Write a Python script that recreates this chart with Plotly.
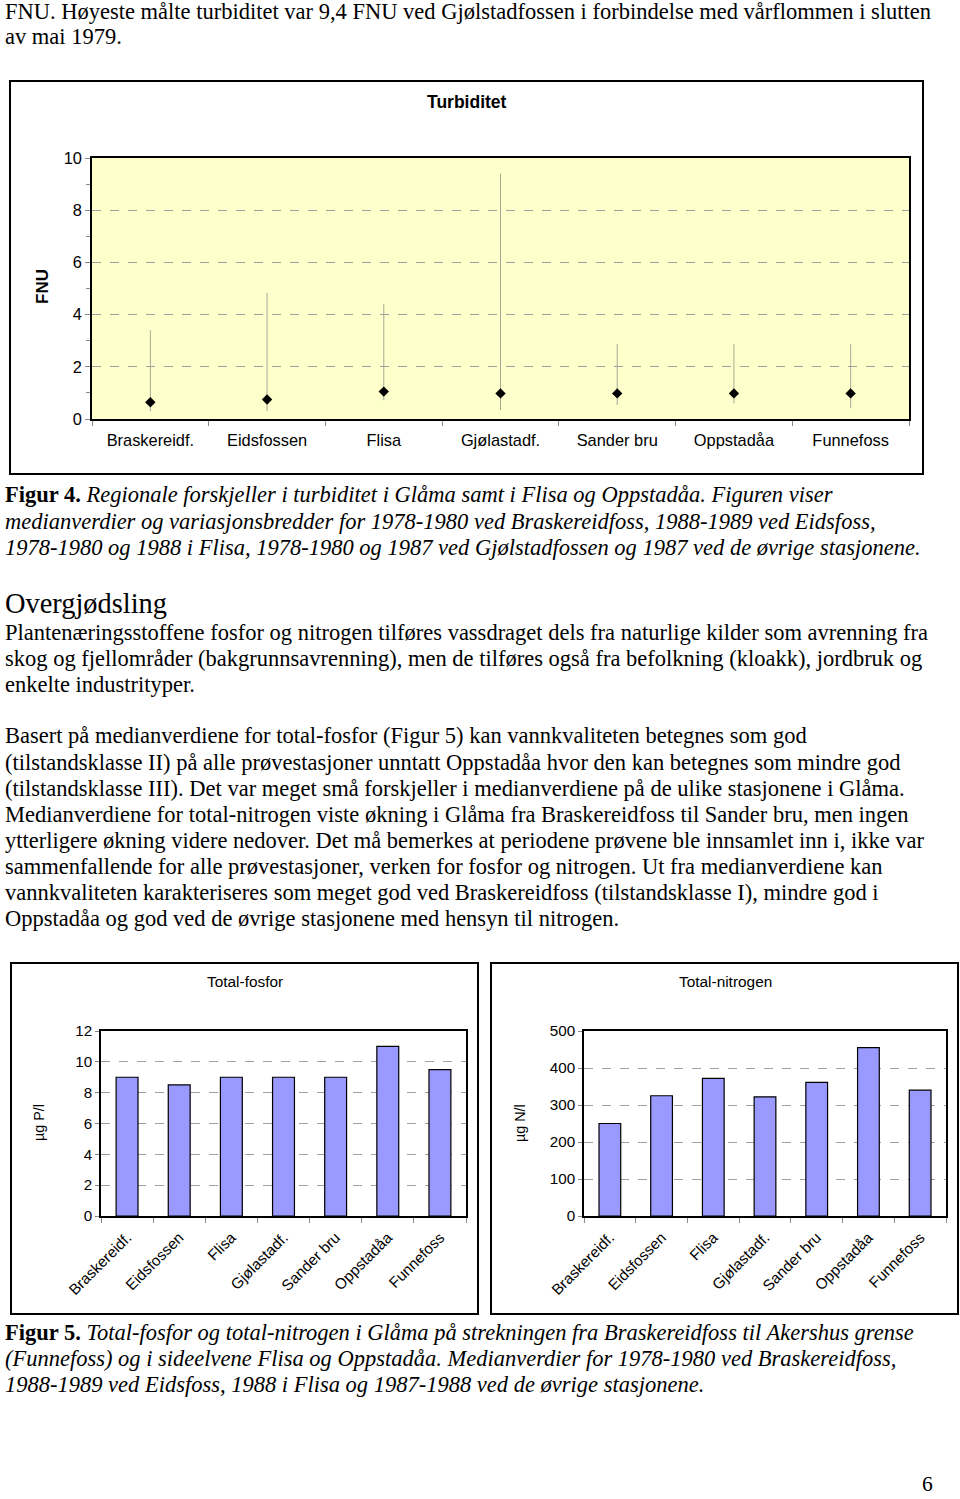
import plotly.graph_objects as go

# ---------------- data ----------------
stations = ["Braskereidf.", "Eidsfossen", "Flisa", "Gjølastadf.", "Sander bru", "Oppstadåa", "Funnefoss"]
turb_median = [0.64, 0.75, 1.05, 0.98, 0.98, 0.98, 0.98]
turb_min = [0.3, 0.3, 0.72, 0.34, 0.54, 0.6, 0.41]
turb_max = [3.4, 4.84, 4.4, 9.4, 2.87, 2.87, 2.87]
turb_ticks = [0, 2, 4, 6, 8, 10]

fosfor = [9.0, 8.5, 9.0, 9.0, 9.0, 11.0, 9.5]
fosfor_ticks = [0, 2, 4, 6, 8, 10, 12]
nitrogen = [250, 325, 372, 322, 361, 455, 340]
nitrogen_ticks = [0, 100, 200, 300, 400, 500]

W, H = 960, 1499


def px(x):
    return x / W


def py(y):
    return 1 - y / H


SERIF = "Liberation Serif"
SANS = "Liberation Sans"
BODY = 22.5

fig = go.Figure()

# Turbiditet: median with range
fig.add_trace(go.Scatter(
    x=stations, y=turb_median, mode="markers",
    marker=dict(symbol="diamond", size=8, color="black"),
    error_y=dict(type="data", symmetric=False,
                 array=[mx - md for mx, md in zip(turb_max, turb_median)],
                 arrayminus=[md - mn for md, mn in zip(turb_median, turb_min)],
                 width=0, thickness=1, color="#A8A898"),
    xaxis="x", yaxis="y", showlegend=False, hoverinfo="skip"))

fig.add_trace(go.Bar(
    x=stations, y=fosfor, marker=dict(color="#9999FF", line=dict(color="black", width=1.2)),
    xaxis="x2", yaxis="y2", showlegend=False))
fig.add_trace(go.Bar(
    x=stations, y=nitrogen, marker=dict(color="#9999FF", line=dict(color="black", width=1.2)),
    xaxis="x3", yaxis="y3", showlegend=False))

cat_range = [-0.5, len(stations) - 0.5]
grid = dict(showgrid=True, gridcolor="#A0A0A0", griddash="dash", gridwidth=1)
xcat = dict(type="category", range=cat_range, showline=True, linecolor="black", linewidth=1.5, mirror=True,
            ticks="outside", tickson="boundaries", ticklen=5, tickcolor="#888", showgrid=False,
            zeroline=False, automargin=False)

fig.update_layout(
    width=W, height=H, margin=dict(l=0, r=0, t=0, b=0, pad=0, autoexpand=False),
    paper_bgcolor="white", bargap=0.58,
    font=dict(family=SANS, color="black"),
    xaxis=dict(domain=[px(92), px(909)], anchor="y", tickfont=dict(size=16.4, family=SANS),
               ticklabelstandoff=6, **xcat),
    yaxis=dict(domain=[py(419), py(158)], anchor="x", range=[0, 10], tickvals=turb_ticks,
               ticks="outside", ticklen=5, tickcolor="#888", showline=True, linecolor="black",
               linewidth=1.5, mirror=True, zeroline=False, tickfont=dict(size=16.4, family=SANS),
               minor=dict(dtick=1, ticks="outside", ticklen=4, tickcolor="#888", showgrid=False),
               automargin=False, **grid),
    xaxis2=dict(domain=[px(101), px(466)], anchor="y2", tickangle=-45,
                tickfont=dict(size=15.2, family=SANS), ticklabelstandoff=5, **xcat),
    yaxis2=dict(domain=[py(1216), py(1031)], anchor="x2", range=[0, 12], tickvals=fosfor_ticks,
                ticks="outside", ticklen=4, tickcolor="#888", showline=True, linecolor="black",
                linewidth=1.5, mirror=True, zeroline=False, tickfont=dict(size=15.2, family=SANS),
                automargin=False, **grid),
    xaxis3=dict(domain=[px(584), px(946)], anchor="y3", tickangle=-45,
                tickfont=dict(size=15.2, family=SANS), ticklabelstandoff=5, **xcat),
    yaxis3=dict(domain=[py(1216), py(1031)], anchor="x3", range=[0, 500], tickvals=nitrogen_ticks,
                ticks="outside", ticklen=4, tickcolor="#888", showline=True, linecolor="black",
                linewidth=1.5, mirror=True, zeroline=False, tickfont=dict(size=15.2, family=SANS),
                automargin=False, **grid),
    plot_bgcolor="white",
)

shapes = []
# yellow plot background for turbidity chart
shapes.append(dict(type="rect", xref="paper", yref="paper", x0=px(92), x1=px(909), y0=py(419), y1=py(158),
                   fillcolor="#FFFFCC", line=dict(width=0), layer="below"))
# outer frames
for (x0, y0, x1, y1) in [(10, 81, 923, 474), (11, 963, 478, 1314), (491, 963, 958, 1314)]:
    shapes.append(dict(type="rect", xref="paper", yref="paper", x0=px(x0), x1=px(x1), y0=py(y1), y1=py(y0),
                       line=dict(color="black", width=2), fillcolor="rgba(0,0,0,0)"))
fig.update_layout(shapes=shapes)

ann = []


def text(x, y, s, size=BODY, family=SERIF, xanchor="left", angle=0, pad=1):
    ann.append(dict(x=px(x), y=py(y), xref="paper", yref="paper", text=s, showarrow=False,
                    xanchor=xanchor, yanchor="middle", textangle=angle, borderpad=pad,
                    font=dict(size=size, family=family, color="black")))


body_lines_top = [
    (11, "FNU. Høyeste målte turbiditet var 9,4 FNU ved Gjølstadfossen i forbindelse med vårflommen i slutten"),
    (36, "av mai 1979."),
]
for y, s in body_lines_top:
    text(3, y, s)

cap4 = [
    (495, "<b>Figur 4.</b> <i>Regionale forskjeller i turbiditet i Glåma samt i Flisa og Oppstadåa. Figuren viser</i>"),
    (521, "<i>medianverdier og variasjonsbredder for 1978-1980 ved Braskereidfoss, 1988-1989 ved Eidsfoss,</i>"),
    (547, "<i>1978-1980 og 1988 i Flisa, 1978-1980 og 1987 ved Gjølstadfossen og 1987 ved de øvrige stasjonene.</i>"),
]
for y, s in cap4:
    text(3, y, s)

text(3, 603, "Overgjødsling", size=28.4)

para1 = [
    "Plantenæringsstoffene fosfor og nitrogen tilføres vassdraget dels fra naturlige kilder som avrenning fra",
    "skog og fjellområder (bakgrunnsavrenning), men de tilføres også fra befolkning (kloakk), jordbruk og",
    "enkelte industrityper.",
]
for i, s in enumerate(para1):
    text(3, 632 + 26 * i, s)

para2 = [
    "Basert på medianverdiene for total-fosfor (Figur 5) kan vannkvaliteten betegnes som god",
    "(tilstandsklasse II) på alle prøvestasjoner unntatt Oppstadåa hvor den kan betegnes som mindre god",
    "(tilstandsklasse III). Det var meget små forskjeller i medianverdiene på de ulike stasjonene i Glåma.",
    "Medianverdiene for total-nitrogen viste økning i Glåma fra Braskereidfoss til Sander bru, men ingen",
    "ytterligere økning videre nedover. Det må bemerkes at periodene prøvene ble innsamlet inn i, ikke var",
    "sammenfallende for alle prøvestasjoner, verken for fosfor og nitrogen. Ut fra medianverdiene kan",
    "vannkvaliteten karakteriseres som meget god ved Braskereidfoss (tilstandsklasse I), mindre god i",
    "Oppstadåa og god ved de øvrige stasjonene med hensyn til nitrogen.",
]
for i, s in enumerate(para2):
    text(3, 736 + 26 * i, s)

cap5 = [
    (1332, "<b>Figur 5.</b> <i>Total-fosfor og total-nitrogen i Glåma på strekningen fra Braskereidfoss til Akershus grense</i>"),
    (1358, "<i>(Funnefoss) og i sideelvene Flisa og Oppstadåa. Medianverdier for 1978-1980 ved Braskereidfoss,</i>"),
    (1384, "<i>1988-1989 ved Eidsfoss, 1988 i Flisa og 1987-1988 ved de øvrige stasjonene.</i>"),
]
for y, s in cap5:
    text(3, y, s)

text(927, 1484, "6", size=21.5, xanchor="center", pad=0)

# chart titles
text(467, 102, "<b>Turbiditet</b>", size=17.5, family=SANS, xanchor="center")
text(42, 287, "<b>FNU</b>", size=17, family=SANS, xanchor="center", angle=-90)
text(245, 981, "Total-fosfor", size=15.4, family=SANS, xanchor="center")
text(725, 981, "Total-nitrogen", size=15.4, family=SANS, xanchor="center")
text(39, 1123, "µg P/l", size=14.3, family=SANS, xanchor="center", angle=-90)
text(520, 1123, "µg N/l", size=14.3, family=SANS, xanchor="center", angle=-90)

fig.update_layout(annotations=ann)

fig.write_html("out.html", config={"displayModeBar": False},
               post_script="document.body.style.margin='0';document.body.style.padding='0';")
